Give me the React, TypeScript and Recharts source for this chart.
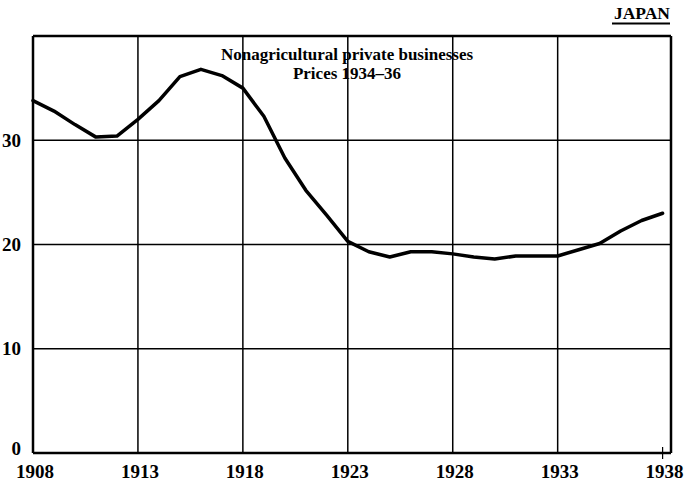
import { LineChart, Line, XAxis, YAxis, CartesianGrid, ReferenceLine } from 'recharts'

const years = [
  1908, 1909, 1910, 1911, 1912, 1913, 1914, 1915, 1916, 1917, 1918, 1919, 1920, 1921, 1922, 1923,
  1924, 1925, 1926, 1927, 1928, 1929, 1930, 1931, 1932, 1933, 1934, 1935, 1936, 1937, 1938,
]
const output = [
  33.8, 32.8, 31.5, 30.3, 30.4, 32.0, 33.8, 36.1, 36.8, 36.2, 35.0, 32.3, 28.3, 25.2, 22.8, 20.3,
  19.3, 18.8, 19.3, 19.3, 19.1, 18.8, 18.6, 18.9, 18.9, 18.9, 19.5, 20.1, 21.3, 22.3, 23.0,
]
const xTicks = [1908, 1913, 1918, 1923, 1928, 1933, 1938]
const yTicks = [0, 10, 20, 30, 40]
const yLabels = [0, 10, 20, 30]
const vGrid = [1913, 1918, 1923, 1928, 1933]
const titleLines = ['Nonagricultural private businesses', 'Prices 1934–36']
const country = 'JAPAN'

const data = years.map((year, i) => ({ year, value: output[i] }))

const FONT = '"Liberation Serif", "DejaVu Serif", serif'

function YTick({ x, y, payload }: any) {
  if (!yLabels.includes(payload.value)) return null
  return (
    <text x={x} y={y + (payload.value === 0 ? -5 : 0)} textAnchor="end" dominantBaseline="central"
      fontFamily={FONT} fontSize={19} fontWeight="bold" fill="#000">
      {payload.value}
    </text>
  )
}

function XTick({ x, y, payload }: any) {
  return (
    <g>
      {payload.value === 1938 && <line x1={x} x2={x} y1={y - 14} y2={y - 2} stroke="#000" strokeWidth={1.2} />}
      <text x={x + 2} y={y + 10} textAnchor="middle" dominantBaseline="central"
        fontFamily={FONT} fontSize={19} fontWeight="bold" fill="#000">
        {payload.value}
      </text>
    </g>
  )
}

export default function App() {
  return (
    <div style={{ position: 'absolute', left: 0, top: 0, width: 685, height: 483, background: '#fff' }}>
      <LineChart width={685} height={483} data={data} margin={{ top: 36, right: 14, bottom: 0, left: 0 }}>
        <CartesianGrid vertical={false} stroke="#000" strokeWidth={1.5} />
        {vGrid.map((v) => (
          <ReferenceLine key={v} x={v} stroke="#000" strokeWidth={1.5} />
        ))}
        <ReferenceLine x={1938.4} stroke="#000" strokeWidth={2.5} />
        <ReferenceLine y={40} stroke="#000" strokeWidth={2.5} />
        <XAxis dataKey="year" type="number" domain={[1908, 1938.4]} ticks={xTicks} height={30}
          axisLine={{ stroke: '#000', strokeWidth: 2.5 }} tickLine={false} tick={<XTick />} interval={0} />
        <YAxis type="number" domain={[0, 40]} ticks={yTicks} width={33}
          axisLine={{ stroke: '#000', strokeWidth: 2.5 }} tickLine={false} tick={<YTick />} tickMargin={6} interval={0} />
        <Line type="linear" dataKey="value" stroke="#000" strokeWidth={3.5} dot={false}
          isAnimationActive={false} strokeLinejoin="round" strokeLinecap="round" />
        <rect x={296} y={38} width={110} height={46} fill="#fff" />
        <text x={347} y={54.5} textAnchor="middle" dominantBaseline="central" fontFamily={FONT} fontSize={17}
          fontWeight="bold" fill="#000" stroke="#fff" strokeWidth={3} paintOrder="stroke">
          {titleLines[0]}
        </text>
        <text x={347} y={73.5} textAnchor="middle" dominantBaseline="central" fontFamily={FONT} fontSize={17}
          fontWeight="bold" fill="#000" stroke="#fff" strokeWidth={3} paintOrder="stroke">
          {titleLines[1]}
        </text>
        <text x={670} y={13} textAnchor="end" dominantBaseline="central" fontFamily={FONT} fontSize={17.5}
          fontWeight="bold" fill="#000">
          {country}
        </text>
        <line x1={612} x2={670} y1={23.5} y2={23.5} stroke="#000" strokeWidth={2} />
      </LineChart>
    </div>
  )
}
